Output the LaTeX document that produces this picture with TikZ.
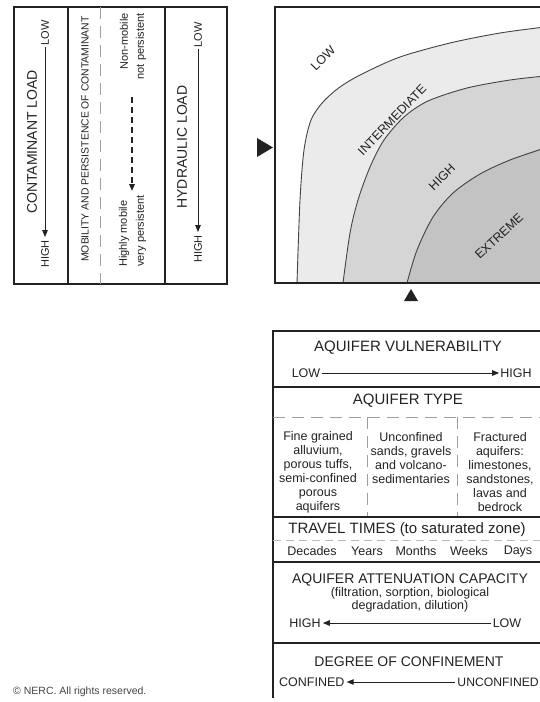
\documentclass[tikz,border=0pt]{standalone}
\usepackage{fontspec}
\setmainfont{Liberation Sans}
\usetikzlibrary{arrows.meta}
\definecolor{ink}{HTML}{222222}
\definecolor{bandA}{HTML}{EBEBEB}
\definecolor{bandB}{HTML}{D5D5D5}
\definecolor{bandC}{HTML}{C3C3C3}
\begin{document}
\begin{tikzpicture}[x=1pt,y=-1pt,
  txt/.style={inner sep=0pt, text=ink},
  fbig/.style={font=\fontsize{15}{17}\selectfont},
  fmid/.style={font=\fontsize{14}{16}\selectfont},
  fsmall/.style={font=\fontsize{12.5}{14}\selectfont},
  flab/.style={font=\fontsize{11}{12}\selectfont},
  fmob/.style={font=\fontsize{11}{13}\selectfont},
  frame/.style={draw=ink, line width=1.4pt},
  sep/.style={draw=ink, line width=2pt},
  thin/.style={draw=ink, line width=1.2pt},
  gdash/.style={draw=gray!75, line width=1pt, dash pattern=on 12pt off 7pt},
  ldash/.style={draw=gray!55, line width=0.6pt, dash pattern=on 8pt off 5pt},
  arr/.style={draw=ink, line width=1pt, -{Triangle[length=7pt,width=5.5pt]}},
  curve/.style={draw=ink!85, line width=0.9pt},
  rot/.style={rotate=90}
]
\useasboundingbox (0,0) rectangle (540,702);
\clip (0,0) rectangle (540,702);

% ---------------- top-left panel ----------------
\draw[frame] (14,7) rectangle (227,284);
\draw[thin] (68,7) -- (68,284);
\draw[thin] (165,7) -- (165,284);
\draw[gdash] (100,7) -- (100,284);

\node[txt,fmid,rot] (cload) at (32,142) {CONTAMINANT LOAD};
\node[txt,flab,rot] (c1low) at (45,33) {LOW};
\node[txt,flab,rot] (c1high) at (45,254) {HIGH};
\draw[arr, shorten <=1pt, shorten >=3pt] (c1low) -- (c1high);

\node[txt,font=\fontsize{10.4}{12}\selectfont,rot] (mob) at (85,139) {MOBILITY AND PERSISTENCE OF CONTAMINANT};
\node[txt,fmob,rot,anchor=east] (nm1) at (124,13) {Non-mobile};
\node[txt,fmob,rot,anchor=east] (nm2) at (141,13) {not persistent};
\node[txt,fmob,rot,anchor=west] (hm1) at (124,267) {Highly mobile};
\node[txt,fmob,rot,anchor=west] (hm2) at (141,267) {very persistent};
\coordinate (dtop) at (132,97);
\coordinate (dbot) at (132,191);
\draw[draw=ink, line width=1.6pt, dash pattern=on 6pt off 4pt, -{Triangle[length=7pt,width=5.5pt]}] (dtop) -- (dbot);

\node[txt,fmid,rot] (hload) at (182,147) {HYDRAULIC LOAD};
\node[txt,flab,rot] (c3low) at (198,35) {LOW};
\node[txt,flab,rot] (c3high) at (198,249) {HIGH};
\draw[arr, shorten <=1pt, shorten >=3pt] (c3low) -- (c3high);

% ---------------- chart ----------------
\fill[white] (275,7) rectangle (545,283);
\fill[bandA] plot[smooth] coordinates {(297,283) (300,200) (304,150) (311,120) (323,102) (340,87) (362,74) (400,57) (450,43) (500,33) (545,27)} -- (545,283) -- cycle;
\fill[bandB] plot[smooth] coordinates {(343,283) (350,233) (358,200) (370,167) (384,140) (404,117) (428,101) (467,88) (510,80) (545,76)} -- (545,283) -- cycle;
\fill[bandC] plot[smooth] coordinates {(407,283) (417,250) (433,217) (453,193) (480,174) (510,160) (545,148)} -- (545,283) -- cycle;
\draw[curve] plot[smooth] coordinates {(297,283) (300,200) (304,150) (311,120) (323,102) (340,87) (362,74) (400,57) (450,43) (500,33) (545,27)};
\draw[curve] plot[smooth] coordinates {(343,283) (350,233) (358,200) (370,167) (384,140) (404,117) (428,101) (467,88) (510,80) (545,76)};
\draw[curve] plot[smooth] coordinates {(407,283) (417,250) (433,217) (453,193) (480,174) (510,160) (545,148)};
\draw[frame] (545,7) -- (275,7) -- (275,283) -- (545,283);

\node[txt,font=\fontsize{12.5}{14}\selectfont,rotate=45] (zlow) at (323,58) {LOW};
\node[txt,font=\fontsize{12.5}{14}\selectfont,rotate=46] (zint) at (392,120) {INTERMEDIATE};
\node[txt,font=\fontsize{12.5}{14}\selectfont,rotate=45] (zhigh) at (442,177) {HIGH};
\node[txt,font=\fontsize{12.5}{14}\selectfont,rotate=43] (zext) at (499,236) {EXTREME};

\fill[ink] (257,138) -- (257,157) -- (273,147.5) -- cycle;
\fill[ink] (411,289) -- (404,301) -- (418,301) -- cycle;

% ---------------- table ----------------
\draw[frame] (545,331) -- (273,331) -- (273,698);
\node[txt,fbig] (vul) at (408,348) {AQUIFER VULNERABILITY};
\node[txt,fsmall] (vlow) at (306,373) {LOW};
\node[txt,fsmall] (vhigh) at (516,373) {HIGH};
\draw[arr, shorten <=2pt, shorten >=1pt] (vlow) -- (vhigh);
\draw[sep, line width=1.6pt] (273,387) -- (545,387);

\node[txt,fbig] (atype) at (408,401) {AQUIFER TYPE};
\draw[gdash] (273,417) -- (545,417);
\draw[gdash] (367,417) -- (367,517);
\draw[gdash] (457,417) -- (457,517);
\node[txt,fsmall,align=center] (t1) at (318,472) {Fine grained\\alluvium,\\porous tuffs,\\semi-confined\\porous\\aquifers};
\node[txt,fsmall,align=center] (t2) at (411,458) {Unconfined\\sands, gravels\\and volcano-\\sedimentaries};
\node[txt,fsmall,align=center] (t3) at (500,472) {Fractured\\aquifers:\\limestones,\\sandstones,\\lavas and\\bedrock};
\draw[sep] (273,517) -- (545,517);

\node[txt,fbig] (travel) at (407,530) {TRAVEL TIMES (to saturated zone)};
\draw[ldash] (273,540) -- (545,540);
\node[txt,fsmall] (d1) at (312,551) {Decades};
\node[txt,fsmall] (d2) at (367,551) {Years};
\node[txt,fsmall] (d3) at (416,551) {Months};
\node[txt,fsmall] (d4) at (469,551) {Weeks};
\node[txt,fsmall] (d5) at (518,551) {Days};
\draw[sep] (273,562) -- (545,562);

\node[txt,fmid] (att) at (410,580) {AQUIFER ATTENUATION CAPACITY};
\node[txt,font=\fontsize{12.5}{13}\selectfont,align=center] (atts) at (410,599.5) {(filtration, sorption, biological\\degradation, dilution)};
\node[txt,fsmall] (ahigh) at (305,623) {HIGH};
\node[txt,fsmall] (alow) at (507,623) {LOW};
\draw[arr, shorten <=2pt, shorten >=2pt] (alow) -- (ahigh);
\draw[sep] (273,643) -- (545,643);

\node[txt,fmid] (conf) at (409,662) {DEGREE OF CONFINEMENT};
\node[txt,fsmall,anchor=west] (cconf) at (279,682) {CONFINED};
\node[txt,font=\fontsize{12.2}{14}\selectfont,anchor=east] (cunc) at (539,682) {UNCONFINED};
\draw[arr, shorten <=2pt, shorten >=2pt] (cunc) -- (cconf);

% ---------------- copyright ----------------
\node[txt,font=\fontsize{10.5}{12}\selectfont,anchor=west,text=ink!85] (copy) at (13,692) {© NERC. All rights reserved.};
\end{tikzpicture}
\end{document}
